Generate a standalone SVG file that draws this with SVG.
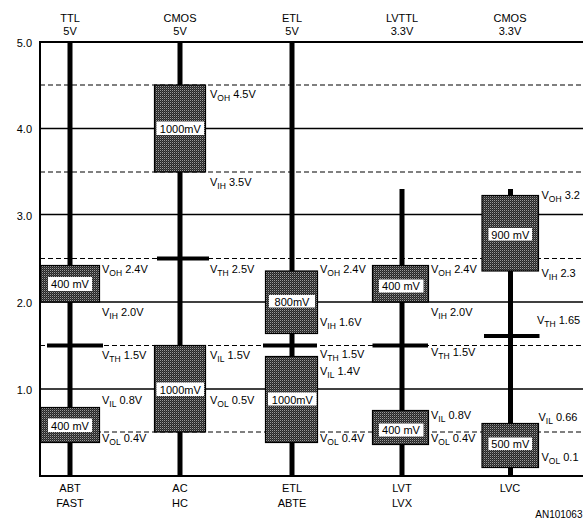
<svg xmlns="http://www.w3.org/2000/svg" width="583" height="523" viewBox="0 0 583 523">
<defs>
<pattern id="dither" width="2" height="2" patternUnits="userSpaceOnUse">
<rect width="2" height="2" fill="#262626"/>
<rect width="1" height="1" fill="#9a9a9a"/>
<rect x="1" y="1" width="1" height="1" fill="#4a4a4a"/>
</pattern>
<style>
text{font-family:"Liberation Sans",Arial,sans-serif;font-size:11px;fill:#000}
.c{text-anchor:middle}
.e{text-anchor:end}
.grid{stroke:#000;stroke-width:1.3;fill:none}
.dash{stroke:#000;stroke-width:1.2;stroke-dasharray:5 3;fill:none}
.axis{stroke:#000;stroke-width:2;fill:none}
.bar{stroke:#000;stroke-width:5}
.th{stroke:#000;stroke-width:4}
.box{fill:url(#dither);stroke:#000;stroke-width:1.2}
.lbg{fill:#fff}
.sub{font-size:8.5px}
.an{font-size:10px}
</style>
</defs>
<rect width="583" height="523" fill="#fff"/>
<g id="grid">
<line class="dash" x1="40" y1="85" x2="583" y2="85"/>
<line class="grid" x1="40" y1="128.5" x2="583" y2="128.5"/>
<line class="dash" x1="40" y1="172" x2="583" y2="172"/>
<line class="grid" x1="40" y1="214.5" x2="583" y2="214.5"/>
<line class="dash" x1="40" y1="258.5" x2="583" y2="258.5"/>
<line class="grid" x1="40" y1="302" x2="583" y2="302"/>
<line class="dash" x1="40" y1="345.5" x2="583" y2="345.5"/>
<line class="grid" x1="40" y1="389" x2="583" y2="389"/>
<line class="dash" x1="40" y1="432" x2="583" y2="432"/>
<line class="axis" x1="40" y1="42" x2="583" y2="42"/>
<line class="axis" x1="40" y1="476" x2="583" y2="476"/>
<line class="axis" x1="40" y1="41" x2="40" y2="477"/>
<text class="e" x="32" y="47">5.0</text>
<text class="e" x="32" y="133">4.0</text>
<text class="e" x="32" y="220">3.0</text>
<text class="e" x="32" y="307">2.0</text>
<text class="e" x="32" y="394">1.0</text>
</g>
<g id="connectors">
<line class="bar" x1="70" y1="42" x2="70" y2="476"/>
<line class="bar" x1="180" y1="42" x2="180" y2="476"/>
<line class="bar" x1="292" y1="42" x2="292" y2="476"/>
<line class="bar" x1="402" y1="189" x2="402" y2="476"/>
<line class="bar" x1="510.5" y1="189" x2="510.5" y2="476"/>
</g>
<g id="ttl">
<text class="c" x="70" y="21.5">TTL</text>
<text class="c" x="70" y="35">5V</text>
<rect class="box" x="40.5" y="265.5" width="59" height="36.5"/>
<rect class="lbg" x="48" y="277" width="44" height="14"/>
<text class="c" x="70" y="288">400 mV</text>
<rect class="box" x="40.5" y="407.5" width="59" height="35"/>
<rect class="lbg" x="48" y="418.5" width="44" height="13.5"/>
<text class="c" x="70" y="429.5">400 mV</text>
<line class="th" x1="47" y1="345.5" x2="103" y2="345.5"/>
<text x="102" y="273">V<tspan class="sub" dy="3">OH</tspan><tspan dy="-3"> 2.4V</tspan></text>
<text x="102" y="316">V<tspan class="sub" dy="3">IH</tspan><tspan dy="-3"> 2.0V</tspan></text>
<text x="102" y="359">V<tspan class="sub" dy="3">TH</tspan><tspan dy="-3"> 1.5V</tspan></text>
<text x="102" y="404">V<tspan class="sub" dy="3">IL</tspan><tspan dy="-3"> 0.8V</tspan></text>
<text x="102" y="442">V<tspan class="sub" dy="3">OL</tspan><tspan dy="-3"> 0.4V</tspan></text>
<text class="c" x="70" y="491.5">ABT</text>
<text class="c" x="70" y="506.5">FAST</text>
</g>
<g id="cmos5">
<text class="c" x="180" y="21.5">CMOS</text>
<text class="c" x="180" y="35">5V</text>
<rect class="box" x="154.5" y="85" width="51" height="87"/>
<rect class="lbg" x="156.5" y="121.5" width="47.5" height="13.5"/>
<text class="c" x="180.3" y="132.5">1000mV</text>
<rect class="box" x="154.5" y="345.5" width="51" height="86.5"/>
<rect class="lbg" x="156.5" y="382.5" width="47.5" height="13.5"/>
<text class="c" x="180.3" y="393.5">1000mV</text>
<line class="th" x1="157" y1="258.5" x2="209" y2="258.5"/>
<text x="210" y="98">V<tspan class="sub" dy="3">OH</tspan><tspan dy="-3"> 4.5V</tspan></text>
<text x="210" y="186">V<tspan class="sub" dy="3">IH</tspan><tspan dy="-3"> 3.5V</tspan></text>
<text x="210" y="273">V<tspan class="sub" dy="3">TH</tspan><tspan dy="-3"> 2.5V</tspan></text>
<text x="210" y="359">V<tspan class="sub" dy="3">IL</tspan><tspan dy="-3"> 1.5V</tspan></text>
<text x="210" y="404">V<tspan class="sub" dy="3">OL</tspan><tspan dy="-3"> 0.5V</tspan></text>
<text class="c" x="180" y="491.5">AC</text>
<text class="c" x="180" y="506.5">HC</text>
</g>
<g id="etl">
<text class="c" x="292" y="21.5">ETL</text>
<text class="c" x="292" y="35">5V</text>
<rect class="box" x="265.5" y="271" width="52" height="62.5"/>
<rect class="lbg" x="269" y="295" width="46" height="12.5"/>
<text class="c" x="292" y="305.5">800mV</text>
<rect class="box" x="265.5" y="356.5" width="52" height="86"/>
<rect class="lbg" x="268" y="392.5" width="48.5" height="13"/>
<text class="c" x="292.3" y="403.5">1000mV</text>
<line class="th" x1="263" y1="345.5" x2="317" y2="345.5"/>
<text x="320" y="273">V<tspan class="sub" dy="3">OH</tspan><tspan dy="-3"> 2.4V</tspan></text>
<text x="320" y="326">V<tspan class="sub" dy="3">IH</tspan><tspan dy="-3"> 1.6V</tspan></text>
<text x="320" y="358">V<tspan class="sub" dy="3">TH</tspan><tspan dy="-3"> 1.5V</tspan></text>
<text x="320" y="375">V<tspan class="sub" dy="3">IL</tspan><tspan dy="-3"> 1.4V</tspan></text>
<text x="320" y="442">V<tspan class="sub" dy="3">OL</tspan><tspan dy="-3"> 0.4V</tspan></text>
<text class="c" x="292" y="491.5">ETL</text>
<text class="c" x="292" y="506.5">ABTE</text>
</g>
<g id="lvttl">
<text class="c" x="402" y="21.5">LVTTL</text>
<text class="c" x="402" y="35">3.3V</text>
<rect class="box" x="372.5" y="265.5" width="56" height="36.5"/>
<rect class="lbg" x="379" y="279.5" width="44.5" height="13"/>
<text class="c" x="401" y="290">400 mV</text>
<rect class="box" x="372.5" y="410.5" width="56" height="34"/>
<rect class="lbg" x="379" y="423.5" width="44.5" height="13"/>
<text class="c" x="401" y="434">400 mV</text>
<line class="th" x1="372.5" y1="345.5" x2="428" y2="345.5"/>
<text x="431" y="273">V<tspan class="sub" dy="3">OH</tspan><tspan dy="-3"> 2.4V</tspan></text>
<text x="431" y="316">V<tspan class="sub" dy="3">IH</tspan><tspan dy="-3"> 2.0V</tspan></text>
<text x="431" y="356">V<tspan class="sub" dy="3">TH</tspan><tspan dy="-3"> 1.5V</tspan></text>
<text x="431" y="419">V<tspan class="sub" dy="3">IL</tspan><tspan dy="-3"> 0.8V</tspan></text>
<text x="431" y="442">V<tspan class="sub" dy="3">OL</tspan><tspan dy="-3"> 0.4V</tspan></text>
<text class="c" x="402" y="491.5">LVT</text>
<text class="c" x="402" y="506.5">LVX</text>
</g>
<g id="cmos33">
<text class="c" x="510" y="21.5">CMOS</text>
<text class="c" x="510" y="35">3.3V</text>
<rect class="box" x="482" y="195.5" width="56.5" height="75.5"/>
<rect class="lbg" x="488.5" y="228" width="43.5" height="12.5"/>
<text class="c" x="510.3" y="238.5">900 mV</text>
<rect class="box" x="482" y="423.5" width="56.5" height="44"/>
<rect class="lbg" x="488.5" y="437.5" width="43.5" height="12.5"/>
<text class="c" x="510.3" y="448">500 mV</text>
<line class="th" x1="484" y1="336" x2="539.5" y2="336"/>
<text x="541.5" y="199">V<tspan class="sub" dy="3">OH</tspan><tspan dy="-3"> 3.2</tspan></text>
<text x="541.5" y="277">V<tspan class="sub" dy="3">IH</tspan><tspan dy="-3"> 2.3</tspan></text>
<text x="537" y="324">V<tspan class="sub" dy="3">TH</tspan><tspan dy="-3"> 1.65</tspan></text>
<text x="538.5" y="421">V<tspan class="sub" dy="3">IL</tspan><tspan dy="-3"> 0.66</tspan></text>
<text x="541.5" y="461">V<tspan class="sub" dy="3">OL</tspan><tspan dy="-3"> 0.1</tspan></text>
<text class="c" x="510" y="491.5">LVC</text>
</g>
<text class="an e" x="582.5" y="518">AN101063</text>
</svg>
